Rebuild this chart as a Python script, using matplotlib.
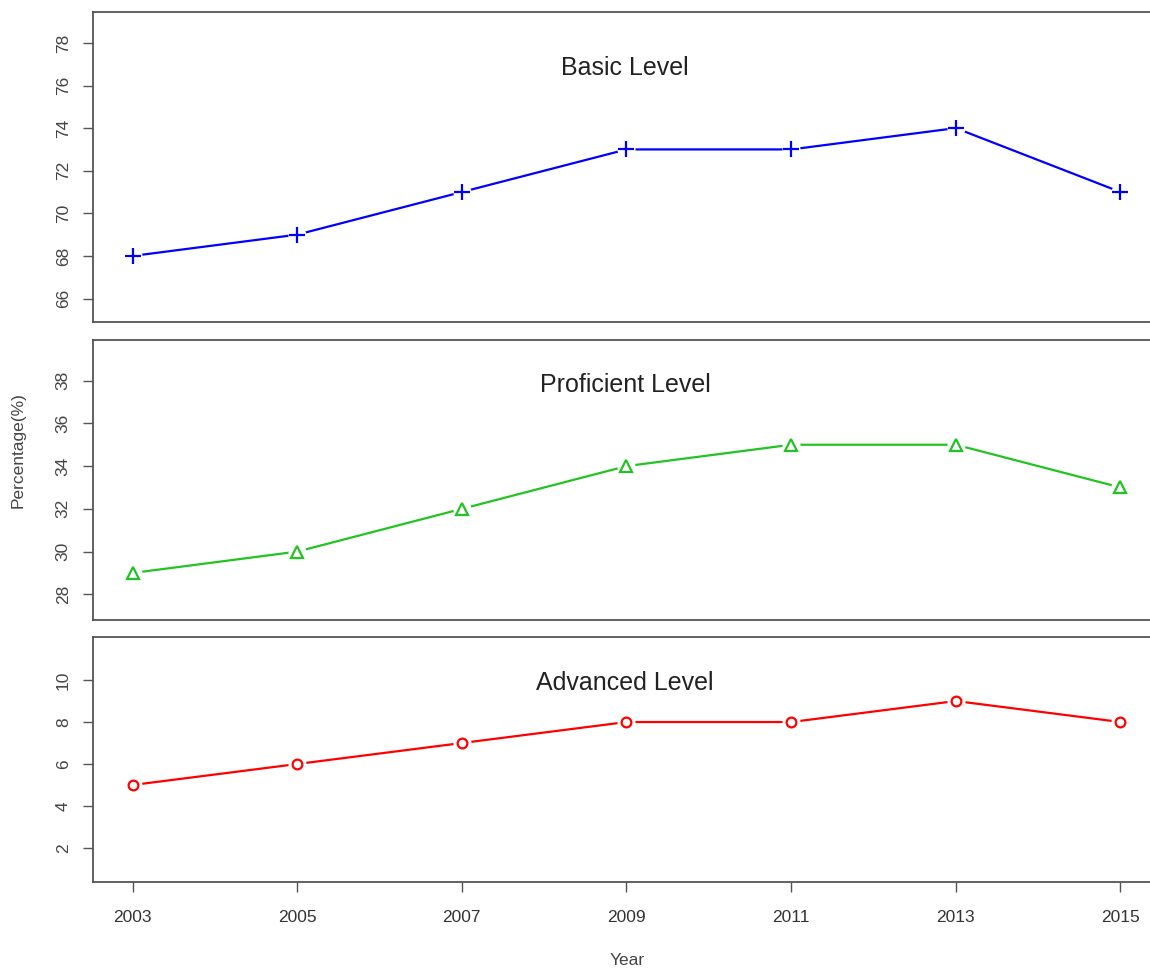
import matplotlib
matplotlib.use("Agg")
import matplotlib.pyplot as plt

plt.rcParams['font.family'] = ['Liberation Sans', 'DejaVu Sans']

# data
years = [2003, 2005, 2007, 2009, 2011, 2013, 2015]
basic = [68, 69, 71, 73, 73, 74, 71]
proficient = [29, 30, 32, 34, 35, 35, 33]
advanced = [5, 6, 7, 8, 8, 9, 8]

titles = ["Basic Level", "Proficient Level", "Advanced Level"]
series = [basic, proficient, advanced]
yticks = [range(66, 80, 2), range(28, 40, 2), range(2, 12, 2)]
ylims = [(64.9, 79.45), (26.8, 39.9), (0.38, 12.05)]
colors = ["#0000ff", "#22c322", "#ff0000"]
markers = ["+", "^", "o"]
msizes = [12, 9, 7]

W, H = 1150, 971
fig = plt.figure(figsize=(W / 100, H / 100), dpi=100)

# panel boxes in pixels: (top, bottom)
boxes = [(12, 322), (340, 620), (637, 882)]
title_y = [68, 385, 683]
left_px, right_px = 93, 1160
axc = "#555555"

for i, (top, bot) in enumerate(boxes):
    ax = fig.add_axes([left_px / W, 1 - bot / H, (right_px - left_px) / W, (bot - top) / H])
    ax.plot(years, series[i], color=colors[i], lw=1.6, zorder=2)
    # white halo so the line stops short of each point (R type="b")
    ax.plot(years, series[i], linestyle="None", marker="o", ms=12,
            markerfacecolor="white", markeredgecolor="white", zorder=3)
    ax.plot(years, series[i], linestyle="None", marker=markers[i], ms=msizes[i],
            markerfacecolor="none", markeredgecolor=colors[i], markeredgewidth=1.6, zorder=4)
    ax.set_xlim(2003 - 0.48, 2015 + 0.48)
    ax.set_ylim(*ylims[i])
    ax.set_yticks(list(yticks[i]))
    ax.set_yticklabels([str(v) for v in yticks[i]], rotation=90, va="center",
                       fontsize=12.5, color="#444444")
    ax.set_xticks(years)
    ax.tick_params(axis="y", direction="out", length=7, width=1, color=axc, pad=9)
    if i < 2:
        ax.tick_params(axis="x", bottom=False, labelbottom=False)
    else:
        ax.set_xticklabels([str(y) for y in years], fontsize=12.5, color="#333333")
        ax.tick_params(axis="x", direction="out", length=7, width=1, color=axc, pad=13)
    for s in ax.spines.values():
        s.set_color(axc)
        s.set_linewidth(1.3)
    fig.text(625 / W, 1 - title_y[i] / H, titles[i], ha="center", va="center",
             fontsize=18, color="#222222")

fig.text(627 / W, 1 - 960 / H, "Year", ha="center", va="center", fontsize=12.5, color="#444444")
fig.text(18 / W, 1 - 450 / H, "Percentage(%)", ha="center", va="center", rotation=90,
         fontsize=12.5, color="#444444")

fig.savefig("out.png", dpi=100)
